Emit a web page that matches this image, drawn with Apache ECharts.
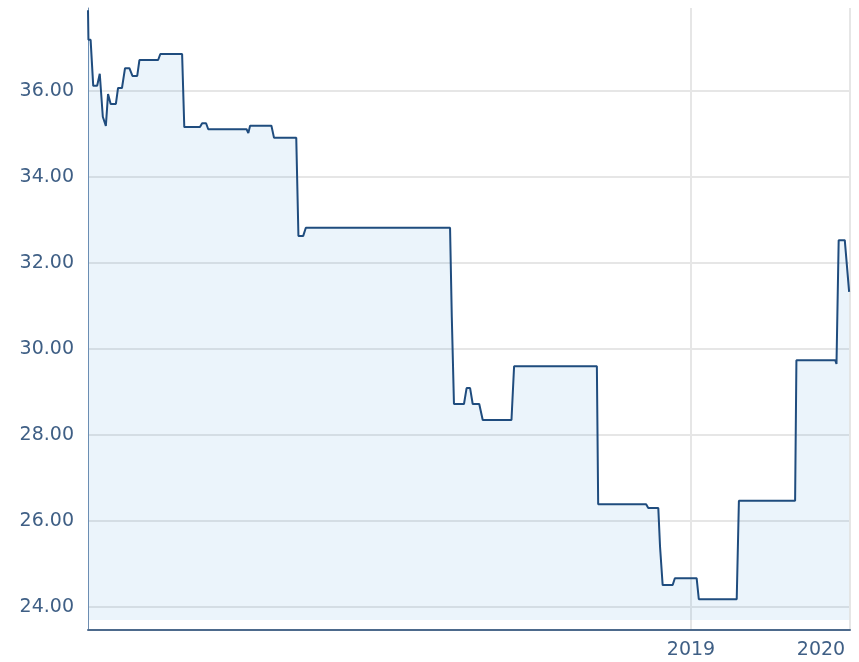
<!DOCTYPE html>
<html>
<head>
<meta charset="utf-8">
<script src="https://cdn.jsdelivr.net/npm/echarts@6/dist/echarts.min.js"></script>
<style>
html,body{margin:0;padding:0;background:#fff;}
#chart{width:859px;height:662px;}
</style>
</head>
<body>
<div id="chart"></div>
<script>
// Dates and values
const dates = [
  '2015-03-19','2015-03-20','2015-03-25','2015-03-31','2015-04-09','2015-04-15','2015-04-22','2015-04-29',
  '2015-05-04','2015-05-10','2015-05-22','2015-05-27','2015-06-05','2015-06-12','2015-06-22','2015-06-29',
  '2015-07-10','2015-07-15','2015-08-27','2015-09-01','2015-10-21','2015-10-26','2015-12-01','2015-12-06',
  '2015-12-15','2015-12-20','2016-03-17','2016-03-21','2016-03-25','2016-05-13','2016-05-19','2016-07-09',
  '2016-07-14','2016-07-25','2016-07-31','2017-06-27','2017-07-01','2017-07-06','2017-07-29','2017-08-04',
  '2017-08-12','2017-08-18','2017-09-02','2017-09-10','2017-11-15','2017-11-21','2018-05-30','2018-06-02',
  '2018-09-20','2018-09-25','2018-10-18','2018-10-22','2018-10-28','2018-11-20','2018-11-25','2019-01-14',
  '2019-01-19','2019-04-16','2019-04-21','2019-08-28','2019-08-31','2019-11-28','2019-12-01','2019-12-06',
  '2019-12-20','2019-12-30'
];
const values = [
  37.88, 37.19, 37.19, 36.12, 36.12, 36.40, 35.40, 35.19,
  35.93, 35.70, 35.70, 36.07, 36.07, 36.53, 36.53, 36.35,
  36.35, 36.72, 36.72, 36.86, 36.86, 35.16, 35.16, 35.25,
  35.25, 35.11, 35.11, 35.02, 35.19, 35.19, 34.91, 34.91,
  32.63, 32.63, 32.82, 32.82, 30.75, 28.72, 28.72, 29.09,
  29.09, 28.72, 28.72, 28.35, 28.35, 29.60, 29.60, 26.39,
  26.39, 26.30, 26.30, 25.40, 24.51, 24.51, 24.67, 24.67,
  24.18, 24.18, 26.47, 26.47, 29.74, 29.74, 29.65, 32.53,
  32.53, 31.33
];
const xTickLabels = ['2019-01-01', '2020-01-01'];
const xMin = '2015-03-19';
const xMax = '2020-01-01';
const yMin = 23.465;
const yMax = 37.93;
const areaBase = 23.7;

const ts = s => echarts.time.parse(s).getTime();
const seriesData = dates.map((d, i) => [ts(d), values[i]]);
const xTicks = xTickLabels.map(ts);

const chart = echarts.init(document.getElementById('chart'), null, {renderer: 'canvas'});
const labelColor = '#3f5f85';
const font = 'DejaVu Sans';
chart.setOption({
  animation: false,
  grid: {left: 88, right: 9, top: 8, bottom: 32, containLabel: false},
  xAxis: {
    type: 'value',
    min: ts(xMin),
    max: ts(xMax),
    axisLine: {show: true, lineStyle: {color: '#4d6a8c', width: 2}},
    axisTick: {show: false, customValues: xTicks},
    splitLine: {show: true, lineStyle: {color: '#e6e6e6', width: 2}},
    axisLabel: {
      customValues: xTicks,
      showMinLabel: true,
      showMaxLabel: true,
      color: labelColor,
      fontFamily: font,
      fontSize: 19,
      margin: 11,
      formatter: function (v) {
        const y = new Date(v).getFullYear();
        return y === 2020 ? '{e|' + y + '}' : String(y);
      },
      rich: {
        e: {color: labelColor, fontFamily: font, fontSize: 19, padding: [0, 58, 0, 0]}
      }
    }
  },
  yAxis: {
    type: 'value',
    min: yMin,
    max: yMax,
    splitNumber: 7,
    axisLine: {show: true, lineStyle: {color: '#6f8db0', width: 1}},
    axisTick: {show: false},
    splitLine: {show: true, showMinLine: false, showMaxLine: false, lineStyle: {color: '#e6e6e6', width: 2}},
    axisLabel: {
      showMinLabel: false,
      showMaxLabel: false,
      color: labelColor,
      fontFamily: font,
      fontSize: 19,
      margin: 14,
      formatter: function (v) {
        return Math.abs(v / 2 - Math.round(v / 2)) < 1e-6 ? v.toFixed(2) : '';
      }
    }
  },
  series: [{
    type: 'line',
    data: seriesData,
    showSymbol: false,
    symbol: 'none',
    lineStyle: {color: '#1f4c7e', width: 2},
    areaStyle: {color: 'rgba(68,148,215,0.15)', origin: areaBase}
  }]
});
</script>
</body>
</html>
